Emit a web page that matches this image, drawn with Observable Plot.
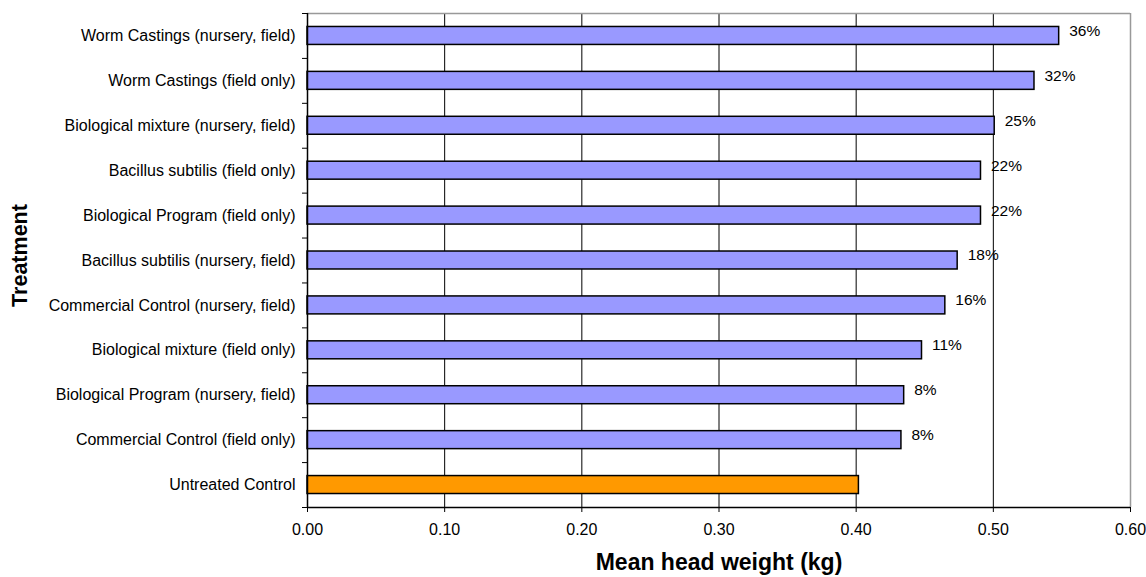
<!DOCTYPE html>
<html><head><meta charset="utf-8">
<script src="https://cdn.jsdelivr.net/npm/d3@7"></script>
<script src="https://cdn.jsdelivr.net/npm/@observablehq/plot@0.6"></script>
<style>body{margin:0;background:#fff;}</style>
</head><body><div id="chart"></div>
<script>
// Categories, top to bottom
const treatments = [
  "Worm Castings (nursery, field)",
  "Worm Castings (field only)",
  "Biological mixture (nursery, field)",
  "Bacillus subtilis (field only)",
  "Biological Program (field only)",
  "Bacillus subtilis (nursery, field)",
  "Commercial Control (nursery, field)",
  "Biological mixture (field only)",
  "Biological Program (nursery, field)",
  "Commercial Control (field only)",
  "Untreated Control"
];
// Mean head weight (kg)
const weights = [0.548, 0.530, 0.501, 0.491, 0.491, 0.474, 0.465, 0.448, 0.435, 0.433, 0.402];
// Increase over untreated control
const increases = ["36%", "32%", "25%", "22%", "22%", "18%", "16%", "11%", "8%", "8%", ""];
const barColors = ["#9999FF","#9999FF","#9999FF","#9999FF","#9999FF","#9999FF","#9999FF","#9999FF","#9999FF","#9999FF","#FF9900"];
const xTicks = [0, 0.1, 0.2, 0.3, 0.4, 0.5, 0.6];
const xTitle = "Mean head weight (kg)";
const yTitle = "Treatment";

const data = treatments.map((t, i) => ({i, t, w: weights[i], pct: increases[i], c: barColors[i]}));
const idx = d3.range(treatments.length);
const bounds = d3.range(treatments.length + 1).map(k => k - 0.5);
const half = 0.2;

const chart = Plot.plot({
  width: 1146,
  height: 577,
  marginLeft: 307,
  marginRight: 16,
  marginTop: 13,
  marginBottom: 70,
  style: {fontFamily: "Arial, 'Liberation Sans', sans-serif", fontSize: "16px", color: "#000", background: "#fff"},
  x: {domain: [0, 0.6]},
  y: {domain: [-0.5, treatments.length - 0.5], reverse: true},
  marks: [
    Plot.ruleX(xTicks.filter(v => v > 0 && v < 0.6), {stroke: "#000", strokeWidth: 1}),
    Plot.ruleX([0.6], {stroke: "#999", strokeWidth: 1.5}),
    Plot.ruleY([-0.5], {stroke: "#999", strokeWidth: 1.5}),
    Plot.rectX(data, {x1: 0, x2: "w", y1: d => d.i - half, y2: d => d.i + half, fill: "c", stroke: "#000", strokeWidth: 1.5}),
    Plot.text(data, {x: "w", y: "i", text: "pct", dx: 10, dy: -5, textAnchor: "start", fontSize: 15.5, fill: "#000"}),
    Plot.ruleX([0], {stroke: "#000", strokeWidth: 1.5}),
    Plot.ruleY([treatments.length - 0.5], {stroke: "#000", strokeWidth: 1.5}),
    Plot.axisY({ticks: idx, tickSize: 0, tickPadding: 12, tickFormat: i => treatments[i], fontSize: 16, label: null}),
    Plot.axisY({ticks: bounds, tickSize: 5, tickFormat: () => "", label: null}),
    Plot.axisX({ticks: xTicks, tickFormat: d3.format(".2f"), tickSize: 5, tickPadding: 11, fontSize: 16, label: null}),
    Plot.text([xTitle], {frameAnchor: "bottom", dy: 55, text: d => d, fontSize: 23, fontWeight: "bold", lineAnchor: "middle", fill: "#000"}),
    Plot.text([yTitle], {frameAnchor: "left", dx: -287, dy: -5, text: d => d, rotate: -90, fontSize: 21.5, fontWeight: "bold", textAnchor: "middle", fill: "#000"})
  ]
});
document.getElementById("chart").appendChild(chart);
</script>
</body></html>
